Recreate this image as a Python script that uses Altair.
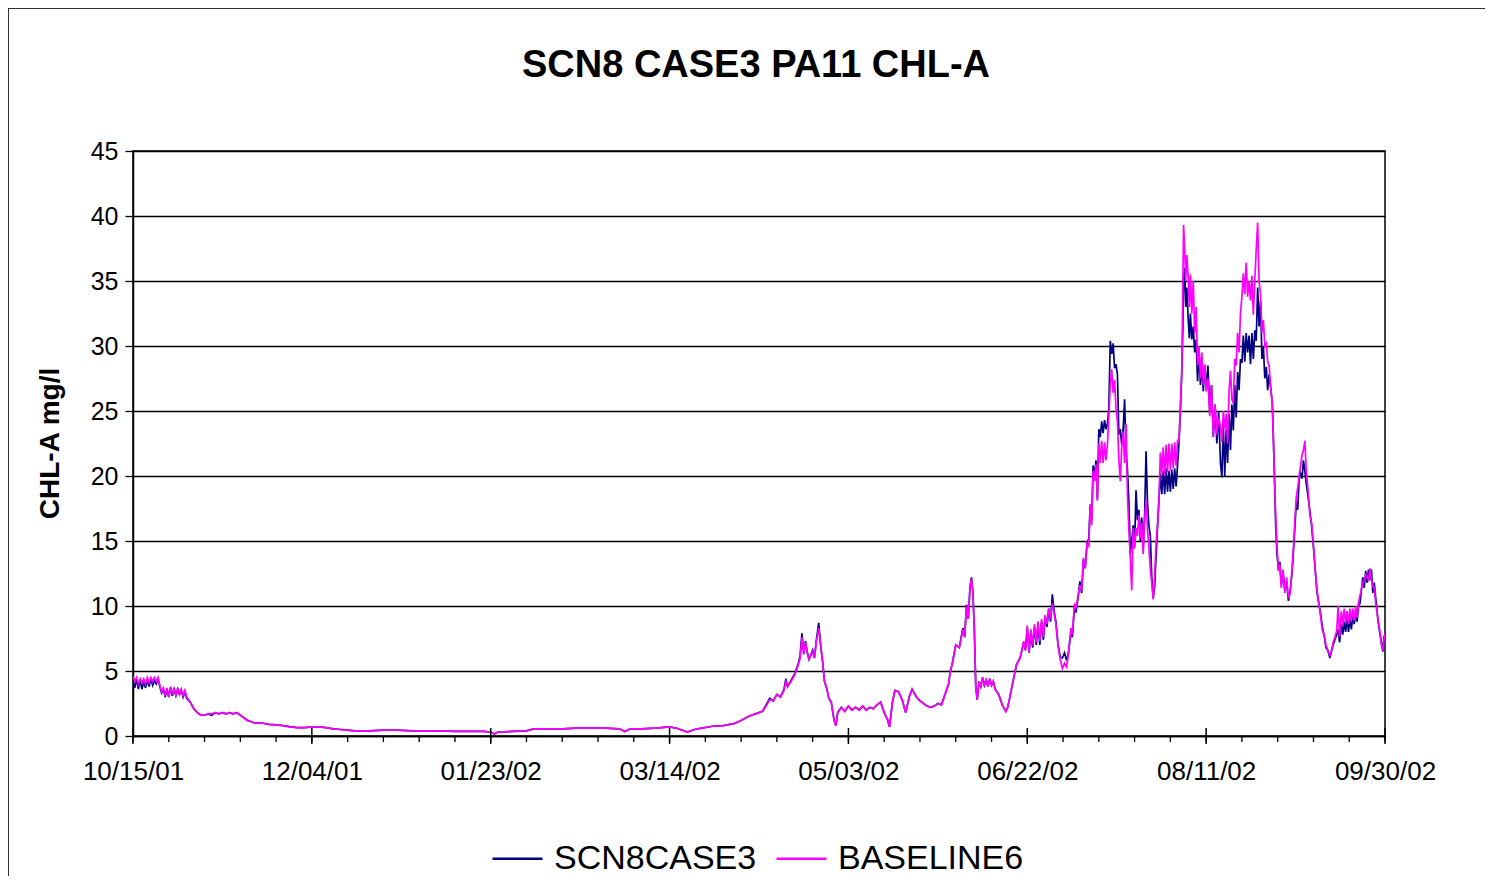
import altair as alt
import pandas as pd

# ---------------- data ----------------
SERIES = ["SCN8CASE3", "BASELINE6"]
COLORS = ["#000080", "#FF00FF"]
TITLE = "SCN8 CASE3 PA11 CHL-A"

TICK_DAYS = [0, 50, 100, 150, 200, 250, 300, 350]
TICK_LABELS = ["10/15/01", "12/04/01", "01/23/02", "03/14/02",
               "05/03/02", "06/22/02", "08/11/02", "09/30/02"]
Y_TICKS = [0, 5, 10, 15, 20, 25, 30, 35, 40, 45]

# days since 10/15/01
DAYS = [
    0, 0.5, 1, 1.5, 2, 2.5, 3, 3.5, 4, 4.5,
    5, 5.5, 6, 6.5, 7, 7.5, 8, 8.5, 9, 9.5,
    10, 10.5, 11, 11.5, 12, 12.5, 13, 13.5, 14, 14.5,
    15, 16, 17, 18, 19, 20, 21, 22, 23, 24,
    25, 26, 27, 28, 29, 30, 31, 32, 34, 36,
    38, 40, 42, 44, 46, 48, 50, 52, 54, 56,
    58, 60, 62, 66, 70, 74, 78, 82, 86, 90,
    94, 98, 100, 101, 102, 106, 110, 112, 116, 120,
    124, 128, 132, 136, 137.5, 139, 142, 146, 150, 152,
    154, 155, 157, 159, 162, 165, 168, 170, 172, 174,
    176, 177, 178, 179, 180, 181, 182, 182.5, 183, 184,
    185, 186, 186.5, 187, 187.5, 188, 188.5, 189, 190, 190.5,
    191, 191.7, 192.3, 192.8, 193.3, 194, 194.5, 195.2, 196, 196.5,
    197, 198, 199, 200, 201, 202, 203, 204, 205, 206,
    207, 208, 209, 210, 211, 211.5, 212.3, 213, 214, 215,
    216, 217, 217.8, 219, 220, 221, 222, 223, 224, 225,
    226, 227, 228, 228.5, 229, 230, 231, 232, 232.5, 233,
    233.5, 234, 234.4, 234.8, 235.2, 235.6, 236, 236.5, 237, 237.5,
    238, 238.5, 239, 239.5, 240, 240.5, 241, 242, 243, 244,
    244.5, 245, 246, 247, 248, 248.5, 249, 249.5, 250, 250.5,
    251, 251.5, 252, 252.5, 253, 253.5, 254, 254.5, 255, 255.5,
    256, 256.5, 257, 257.5, 258, 258.6, 259.2, 259.8, 260.4, 261,
    261.5, 262.2, 262.6, 263.2, 263.6, 264.2, 264.7, 265.2, 265.7, 266.2,
    266.7, 267.2, 267.6, 268, 268.4, 268.8, 269.2, 269.6, 270, 270.4,
    270.8, 271.2, 271.6, 272, 272.4, 272.8, 273.2, 273.6, 274, 274.4,
    274.8, 275.2, 275.6, 276, 276.4, 276.8, 277.2, 277.6, 278, 278.4,
    278.8, 279.2, 279.6, 280, 280.4, 280.8, 281.2, 281.6, 282, 282.4,
    282.8, 283.2, 283.6, 284, 284.4, 284.8, 285.2, 285.6, 286, 286.4,
    286.8, 287.2, 287.6, 288, 288.4, 288.8, 289.2, 289.6, 290, 290.4,
    290.8, 291.2, 291.6, 292, 292.4, 292.8, 293.2, 293.5, 293.7, 294,
    294.3, 294.6, 295, 295.3, 295.6, 296, 296.4, 296.8, 297.2, 297.6,
    298, 298.4, 298.8, 299.2, 299.6, 300, 300.5, 301, 301.5, 302,
    302.5, 303, 303.5, 304, 304.4, 304.8, 305.2, 305.6, 306, 306.4,
    306.8, 307.2, 307.6, 308, 308.4, 308.8, 309.2, 309.6, 310, 310.4,
    310.8, 311.2, 311.6, 312, 312.4, 312.8, 313.2, 313.6, 314, 314.4,
    314.8, 315.2, 315.6, 316, 316.4, 316.8, 317.2, 317.6, 318, 318.5,
    319, 319.4, 319.8, 320.2, 320.6, 321, 321.5, 322, 322.5, 323,
    323.5, 324, 324.4, 324.8, 325.2, 325.6, 326, 326.4, 326.8, 327.2,
    327.6, 328, 328.4, 329, 329.5, 330, 330.5, 331, 331.5, 332,
    332.5, 333, 333.5, 334, 334.6, 335, 335.5, 336, 336.5, 336.9,
    337.3, 337.8, 338.2, 338.6, 339, 339.4, 339.8, 340.2, 340.6, 341,
    341.4, 341.8, 342.2, 342.6, 343, 343.4, 343.8, 344.2, 344.6, 345,
    345.4, 345.8, 346.2, 346.6, 347, 347.4, 348, 348.5, 349, 349.4,
    349.7, 350,
]

SCN8CASE3 = [
    4.2, 3.7, 4.4, 3.6, 4.3, 3.6, 4.2, 3.7, 4.3, 3.8,
    4.4, 3.9, 4.3, 4.0, 4.4, 3.8, 3.3, 3.6, 3.0, 3.6,
    3.0, 3.7, 3.1, 3.6, 3.1, 3.6, 3.2, 3.5, 3.0, 3.4,
    2.9, 2.6, 2.1, 1.8, 1.6, 1.6, 1.7, 1.6, 1.8, 1.7,
    1.8, 1.7, 1.8, 1.7, 1.8, 1.6, 1.4, 1.2, 1.0, 1.0,
    0.9, 0.85, 0.8, 0.7, 0.65, 0.65, 0.7, 0.7, 0.65, 0.55,
    0.5, 0.45, 0.4, 0.4, 0.45, 0.45, 0.4, 0.4, 0.4, 0.35,
    0.35, 0.35, 0.3, 0.15, 0.3, 0.35, 0.4, 0.55, 0.55, 0.55,
    0.6, 0.6, 0.6, 0.55, 0.35, 0.55, 0.55, 0.6, 0.7, 0.6,
    0.4, 0.3, 0.5, 0.6, 0.75, 0.8, 0.95, 1.2, 1.5, 1.7,
    1.9, 2.4, 2.9, 2.7, 3.2, 3.0, 3.6, 4.4, 3.8, 4.3,
    4.8, 5.6, 6.2, 7.9, 6.3, 7.3, 6.4, 5.9, 6.6, 6.0,
    7.3, 8.7, 6.8, 5.7, 4.2, 3.6, 2.9, 2.6, 1.2, 0.8,
    1.8, 2.2, 1.9, 2.3, 2.0, 2.2, 2.0, 2.3, 2.0, 2.2,
    2.1, 2.4, 2.6, 1.8, 1.2, 0.7, 2.6, 3.5, 3.4, 2.8,
    1.8, 3.0, 3.6, 3.0, 2.7, 2.5, 2.3, 2.2, 2.3, 2.5,
    2.4, 3.2, 4.0, 5.0, 5.5, 7.0, 6.8, 8.3, 7.6, 10.1,
    9.0, 11.5, 12.2, 11.0, 8.2, 3.8, 2.8, 4.2, 3.8, 4.5,
    3.9, 4.3, 3.8, 4.4, 3.9, 4.2, 3.6, 3.2, 2.4, 1.9,
    2.2, 2.8, 4.2, 5.5, 6.0, 6.6, 7.2, 6.6, 8.3, 6.4,
    8.0, 6.8, 8.4, 7.0, 8.6, 7.0, 8.8, 7.4, 9.2, 8.4,
    9.8, 8.8, 10.9, 9.6, 8.8, 7.0, 6.1, 6.0, 6.4, 5.8,
    6.4, 8.0, 7.6, 10.0, 9.5, 10.6, 11.9, 11.0, 13.6, 12.9,
    14.8, 15.2, 17.8, 16.6, 20.8, 20.0, 21.2, 18.2, 23.6, 23.0,
    24.2, 23.3, 24.3, 23.6, 24.0, 25.2, 30.4, 29.4, 30.2, 28.3,
    28.6, 27.8, 23.2, 23.6, 22.4, 23.6, 25.9, 22.0, 20.5, 18.0,
    14.0, 15.0, 16.2, 14.6, 18.9, 16.6, 17.4, 15.0, 16.8, 14.4,
    17.0, 21.9, 18.0, 16.2, 15.4, 12.2, 10.6, 11.5, 13.8, 16.0,
    18.2, 20.2, 18.6, 20.4, 18.6, 20.6, 18.8, 20.4, 18.8, 20.5,
    19.0, 20.6, 19.2, 20.8, 22.5, 25.0, 28.0, 31.5, 35.0, 36.0,
    33.0, 34.5, 32.0, 30.6, 32.5, 30.5, 31.5, 29.5, 30.5, 27.3,
    29.5, 27.0, 28.5, 26.5, 28.5, 26.8, 28.5, 25.0, 27.0, 23.0,
    25.5, 22.5, 25.0, 21.0, 19.9, 24.0, 20.0, 23.6, 21.0, 24.8,
    22.0, 25.5, 23.5, 27.0, 24.5, 28.0, 26.6, 29.0, 28.7, 30.8,
    28.8, 31.0, 29.5, 30.8, 28.6, 31.0, 29.0, 31.2, 30.4, 34.5,
    31.5, 33.5, 29.0, 30.0, 27.5, 28.4, 26.6, 27.8, 26.9, 25.6,
    21.0, 16.5, 14.0, 12.8, 13.4, 11.6, 12.6, 11.2, 11.8, 10.4,
    11.2, 12.5, 14.2, 16.0, 18.0, 17.4, 19.8, 20.2, 19.8, 21.2,
    20.4, 19.4, 18.6, 17.3, 16.1, 14.5, 12.8, 11.0, 10.2, 9.4,
    8.4, 7.7, 6.8, 6.6, 6.0, 6.5, 7.0, 7.4, 7.8, 8.2,
    7.2, 8.6, 7.8, 8.8, 8.0, 9.0, 8.0, 9.0, 8.2, 9.3,
    8.6, 9.5, 8.8, 10.0, 10.2, 11.2, 12.2, 11.4, 12.7, 11.8,
    12.8, 12.0, 12.8, 11.0, 11.8, 10.6, 9.0, 8.0, 7.2, 6.5,
    7.6, 7.8,
]

BASELINE6 = [
    4.6, 4.2, 4.5, 4.0, 4.4, 4.1, 4.4, 4.0, 4.5, 4.1,
    4.5, 4.2, 4.5, 4.2, 4.5, 3.9, 3.4, 3.7, 3.1, 3.7,
    3.0, 3.8, 3.2, 3.7, 3.1, 3.7, 3.2, 3.6, 3.1, 3.5,
    3.0, 2.6, 2.1, 1.8, 1.6, 1.6, 1.7, 1.7, 1.8, 1.7,
    1.8, 1.7, 1.8, 1.7, 1.8, 1.6, 1.4, 1.2, 1.0, 1.0,
    0.9, 0.85, 0.8, 0.7, 0.65, 0.65, 0.7, 0.7, 0.65, 0.55,
    0.5, 0.45, 0.4, 0.4, 0.45, 0.45, 0.4, 0.4, 0.4, 0.35,
    0.35, 0.35, 0.3, 0.15, 0.3, 0.35, 0.4, 0.55, 0.55, 0.55,
    0.6, 0.6, 0.6, 0.55, 0.35, 0.55, 0.55, 0.6, 0.7, 0.6,
    0.4, 0.3, 0.5, 0.6, 0.75, 0.8, 0.95, 1.2, 1.5, 1.7,
    1.9, 2.3, 2.8, 2.7, 3.2, 3.0, 3.5, 4.2, 3.8, 4.2,
    4.7, 5.5, 6.0, 7.6, 6.3, 7.2, 6.4, 5.9, 6.5, 6.0,
    7.2, 8.3, 6.8, 5.7, 4.2, 3.6, 2.9, 2.6, 1.2, 0.8,
    1.8, 2.2, 1.9, 2.3, 2.0, 2.2, 2.0, 2.3, 2.0, 2.2,
    2.1, 2.4, 2.6, 1.8, 1.2, 0.7, 2.6, 3.5, 3.4, 2.8,
    1.8, 3.0, 3.6, 3.0, 2.7, 2.5, 2.3, 2.2, 2.3, 2.5,
    2.4, 3.2, 4.0, 5.0, 5.5, 7.0, 6.8, 8.2, 7.6, 10.0,
    9.0, 11.5, 12.1, 11.0, 8.2, 3.8, 2.8, 4.2, 3.8, 4.5,
    3.9, 4.3, 3.8, 4.4, 3.9, 4.2, 3.6, 3.2, 2.4, 1.9,
    2.2, 2.8, 4.2, 5.5, 6.0, 6.6, 7.3, 6.6, 8.5, 6.4,
    8.2, 7.0, 8.6, 7.2, 8.8, 7.3, 9.0, 7.6, 9.3, 8.6,
    9.8, 9.0, 10.2, 9.4, 8.6, 7.0, 5.9, 5.2, 5.6, 5.3,
    6.3, 8.3, 7.8, 10.2, 9.8, 10.8, 11.6, 11.2, 13.7, 12.9,
    14.8, 14.6, 17.8, 16.2, 20.4, 19.6, 20.9, 18.1, 22.5, 21.0,
    22.7, 21.0, 22.6, 21.2, 22.4, 24.6, 27.0, 28.2, 26.4, 27.4,
    25.2, 24.2, 21.3, 19.6, 22.2, 23.4, 21.0, 24.0, 18.6, 15.8,
    13.7, 11.2, 16.0, 14.4, 16.0, 15.4, 17.0, 15.2, 16.4, 14.0,
    16.5, 18.2, 16.0, 14.5, 12.8, 11.8, 10.5, 12.3, 14.8, 16.2,
    18.0, 21.8, 20.2, 22.2, 20.0, 22.4, 20.3, 22.5, 20.4, 22.5,
    20.6, 22.6, 20.8, 22.7, 22.6, 25.5, 28.1, 35.0, 39.3, 37.4,
    35.0, 37.0, 35.3, 33.0, 35.5, 32.5, 35.0, 31.0, 33.0, 28.5,
    30.0, 27.5, 29.5, 27.0, 28.6, 26.5, 27.5, 24.6, 27.0, 23.0,
    25.5, 23.2, 24.5, 23.8, 22.6, 25.0, 23.6, 24.8, 22.5, 26.5,
    28.1, 25.9, 25.6, 29.0, 28.5, 31.0, 29.5, 32.5, 33.8, 35.6,
    34.0, 36.4, 33.8, 35.0, 33.5, 35.4, 32.4, 35.0, 37.4, 39.5,
    35.0, 34.0, 31.0, 32.0, 30.0, 30.2, 28.8, 28.5, 27.0, 25.5,
    21.0, 17.3, 14.7, 12.7, 13.2, 11.4, 12.8, 11.0, 12.2, 10.6,
    11.0, 12.8, 14.4, 16.6, 18.4, 19.1, 20.0, 20.8, 21.6, 22.0,
    22.7, 20.4, 19.2, 17.0, 16.4, 14.7, 12.7, 11.2, 10.2, 9.2,
    8.1, 7.8, 7.0, 6.6, 6.2, 6.5, 7.2, 7.6, 8.1, 10.0,
    7.6, 9.6, 8.5, 9.8, 8.7, 9.6, 8.6, 9.8, 8.8, 9.8,
    8.9, 10.0, 9.1, 10.3, 10.8, 11.3, 11.8, 12.0, 12.4, 12.2,
    12.0, 12.9, 12.0, 11.5, 11.4, 10.2, 9.1, 8.2, 7.0, 6.6,
    7.4, 7.9,
]

# ---------------- build ----------------
n = min(len(DAYS), len(SCN8CASE3), len(BASELINE6))
df = pd.DataFrame({
    "day": DAYS[:n] + DAYS[:n],
    "value": SCN8CASE3[:n] + BASELINE6[:n],
    "series": [SERIES[0]] * n + [SERIES[1]] * n,
})
minor_df = pd.DataFrame({"day": list(range(0, 351, 10))})
major_df = pd.DataFrame({"day": TICK_DAYS})
one = pd.DataFrame({"k": [0]})
title_df = pd.DataFrame({"t": [TITLE]})

FONT = "Liberation Sans"
label_expr = "[" + ",".join("'%s'" % s for s in TICK_LABELS) + "][round(datum.value / 50)]"

x_enc = alt.X(
    "day:Q",
    scale=alt.Scale(domain=[0, 350], nice=False, zero=False),
    axis=alt.Axis(
        values=TICK_DAYS, labelExpr=label_expr, title=None, ticks=False,
        grid=False, domainColor="black", domainWidth=1.5, labelFont=FONT,
        labelFontSize=26, labelColor="black", labelPadding=22,
        labelFlush=False, labelOverlap=False, labelBound=False,
    ),
)
y_enc = alt.Y(
    "value:Q",
    scale=alt.Scale(domain=[0, 45], nice=False, zero=True),
    axis=alt.Axis(
        values=Y_TICKS, title="CHL-A mg/l", titleFont=FONT, titleFontSize=28,
        titleFontWeight="bold", titleColor="black", titleX=-83, titleY=292,
        titleAlign="center", titleBaseline="middle",
        grid=True, gridColor="black", gridWidth=1.3, gridOpacity=1,
        tickColor="black", tickSize=8, tickWidth=1.3,
        domainColor="black", domainWidth=1.5, labelFont=FONT,
        labelFontSize=25, labelColor="black", labelPadding=7,
    ),
)
color_enc = alt.Color(
    "series:N",
    scale=alt.Scale(domain=SERIES, range=COLORS),
    legend=alt.Legend(
        title=None, orient="none", legendX=358, legendY=681,
        direction="horizontal", labelFont=FONT, labelFontSize=34,
        labelColor="black", labelLimit=500, symbolType="stroke",
        symbolSize=2500, symbolStrokeWidth=2.5, labelOffset=10,
        columnPadding=14,
    ),
)

blue = alt.Chart(df).transform_filter(alt.datum.series == SERIES[0]).mark_line(
    strokeWidth=1.7, clip=True
).encode(x=x_enc, y=y_enc, color=color_enc)

magenta = alt.Chart(df).transform_filter(alt.datum.series == SERIES[1]).mark_line(
    strokeWidth=1.7, clip=True
).encode(x=x_enc, y=y_enc, color=color_enc)

minor = alt.Chart(minor_df).mark_rule(color="black", strokeWidth=1.3).encode(
    x=x_enc, y=alt.value(585), y2=alt.value(591)
)
major = alt.Chart(major_df).mark_rule(color="black", strokeWidth=1.5).encode(
    x=x_enc, y=alt.value(577), y2=alt.value(593)
)

frame_left = alt.Chart(one).mark_rule(color="#333333", strokeWidth=2).encode(
    x=alt.value(-125), y=alt.value(-143), y2=alt.value(760)
)
frame_top = alt.Chart(one).mark_rule(color="#333333", strokeWidth=2).encode(
    x=alt.value(-125), x2=alt.value(1400), y=alt.value(-143)
)

title = alt.Chart(title_df).mark_text(
    font=FONT, fontSize=38, fontWeight="bold", color="black",
    align="center", baseline="alphabetic",
).encode(text="t:N", x=alt.value(623), y=alt.value(-74))

chart = alt.layer(blue, magenta, minor, major, frame_left, frame_top, title).properties(
    width=1252,
    height=585,
    padding={"left": 125, "top": 143, "right": 100, "bottom": 140},
    autosize=alt.AutoSizeParams(type="none"),
    background="white",
).configure_view(stroke="black", strokeWidth=1.5)

chart.save("out.html", embed_options={"renderer": "svg", "actions": False})
